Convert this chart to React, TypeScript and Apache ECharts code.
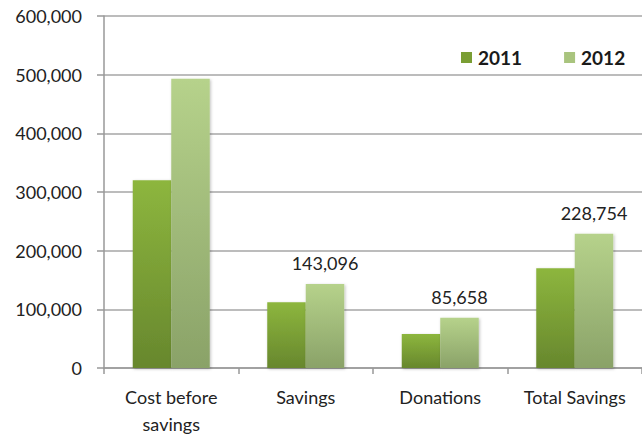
import React, { useEffect, useRef } from "react";
import * as echarts from "echarts";

const categories = ["Cost before\nsavings", "Savings", "Donations", "Total Savings"];
const values2011 = [320000, 112000, 58000, 170000];
const values2012 = [493000, 143096, 85658, 228754];
const labeled2012 = [false, true, true, true];
const yTicks = { min: 0, max: 600000, interval: 100000 };

const FONT = "Lato, 'Open Sans', sans-serif";

export default function App() {
  const ref = useRef<HTMLDivElement>(null);
  useEffect(() => {
    document.body.style.margin = "0";
    if (!ref.current) return;
    const chart = echarts.init(ref.current, undefined, { renderer: "svg" });
    const grad = (top: string, bottom: string) =>
      new echarts.graphic.LinearGradient(0, 0, 0, 1, [
        { offset: 0, color: top },
        { offset: 1, color: bottom },
      ]);
    const c2011 = grad("#8db63e", "#67872d");
    const c2012 = grad("#b6d28b", "#8aa268");
    chart.setOption({
      animation: false,
      textStyle: { fontFamily: FONT },
      grid: { left: 104, top: 16, bottom: 66, right: -5, containLabel: false },
      legend: {
        left: 456,
        top: 43,
        itemWidth: 11,
        itemHeight: 11,
        itemGap: 42,
        icon: "rect",
        textStyle: { fontFamily: FONT, fontSize: 19, fontWeight: "bold", color: "#1a1a1a", padding: [0, 0, 0, 1] },
        data: [
          { name: "2011", itemStyle: { color: "#7a9e34" } },
          { name: "2012", itemStyle: { color: "#a9c47e" } },
        ],
      },
      xAxis: {
        type: "category",
        data: categories,
        axisLine: { lineStyle: { color: "#999", width: 1.5 } },
        axisTick: { show: true, length: 6, lineStyle: { color: "#999", width: 1.5 } },
        axisLabel: { fontFamily: FONT, fontSize: 18, color: "#222", margin: 15, lineHeight: 27, interval: 0 },
      },
      yAxis: {
        type: "value",
        min: yTicks.min,
        max: yTicks.max,
        interval: yTicks.interval,
        axisLine: { show: true, lineStyle: { color: "#999", width: 1.5 } },
        axisTick: { show: true, length: 7, lineStyle: { color: "#999", width: 1.5 } },
        splitLine: { lineStyle: { color: "#a6a6a6", width: 1.5 } },
        axisLabel: {
          fontFamily: FONT,
          fontSize: 18,
          color: "#222",
          margin: 22,
          formatter: (v: number) => v.toLocaleString("en-US"),
        },
      },
      series: [
        {
          name: "2011",
          type: "bar",
          data: values2011,
          barWidth: 38.5,
          barGap: "0%",
          itemStyle: { color: c2011, shadowBlur: 3, shadowColor: "rgba(0,0,0,0.25)", shadowOffsetX: 1, shadowOffsetY: 1 },
        },
        {
          name: "2012",
          type: "bar",
          barWidth: 38.5,
          barGap: "0%",
          data: values2012.map((v, i) => ({
            value: v,
            label: {
              show: labeled2012[i],
              position: "top",
              distance: 12,
              fontFamily: FONT,
              fontSize: 18,
              color: "#222",
              formatter: (p: any) => Number(p.value).toLocaleString("en-US"),
            },
          })),
          itemStyle: { color: c2012, shadowBlur: 3, shadowColor: "rgba(0,0,0,0.25)", shadowOffsetX: 1, shadowOffsetY: 1 },
        },
      ],
    });
    return () => chart.dispose();
  }, []);
  return <div ref={ref} style={{ width: 642, height: 437 }} />;
}
